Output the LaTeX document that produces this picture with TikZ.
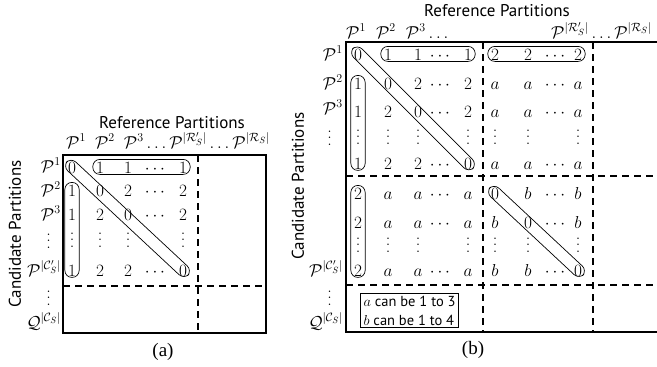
\documentclass[tikz,border=0pt]{standalone}
\usepackage{fontspec}
\setsansfont{PT Sans}
\newfontfamily\capfont{Liberation Serif}
\usetikzlibrary{fit,calc}

\newcommand{\vd}{\vbox{\baselineskip6.5pt\lineskiplimit0pt\hbox{.}\hbox{.}\hbox{.}}}
\newcommand{\msz}{\fontsize{18}{21}\selectfont}

\tikzstyle{ent}=[inner sep=0pt,anchor=base,text height=12.2pt,text depth=0pt,font=\msz]
\tikzstyle{lbl}=[inner sep=0pt,anchor=base east,font=\msz]
\tikzstyle{hdr}=[inner sep=0pt,anchor=base west,font=\msz]
\tikzstyle{ttl}=[inner sep=0pt,font=\sffamily\fontsize{17}{20}\selectfont]
\tikzstyle{subcap}=[inner sep=0pt,font=\capfont\fontsize{19}{22}\selectfont]
\tikzstyle{grp}=[draw,rounded corners=7pt,inner xsep=3pt,inner ysep=1.2pt,line width=0.7pt]
\tikzstyle{frame}=[line width=1.4pt]
\tikzstyle{cut}=[line width=1.2pt,dash pattern=on 7pt off 5pt]
\tikzstyle{note}=[draw,line width=1.2pt,align=left,inner xsep=3pt,inner ysep=2.5pt,font=\sffamily\fontsize{14.5}{19}\selectfont]

\def\colA{{72,100,128,155,183}}
\def\colB{{358,388,418,440,468,495,528,555,578}}

\begin{document}
\begin{tikzpicture}[x=1pt,y=-1pt]
\useasboundingbox (0,0) rectangle (657,367);

% (a) small matrix
\draw[frame] (63,155) rectangle (266,333);
\draw[cut] (198,155) -- (198,333);
\draw[cut] (63,286) -- (266,286);
\node[ttl] (refA) at (172,123) {Reference Partitions};
\node[ttl, rotate=90] (candA) at (15,234) {Candidate Partitions};
\node[hdr] (hdA) at (66,148) {$\mathcal{P}^1\hspace{9pt}\mathcal{P}^2\hspace{9pt}\mathcal{P}^3\ldots\mathcal{P}^{|\mathcal{R}'_S|}\ldots\mathcal{P}^{|\mathcal{R}_S|}$};
\node[lbl] (la1) at (61,172) {$\mathcal{P}^1$};
\node[lbl] (la2) at (61,196) {$\mathcal{P}^2$};
\node[lbl] (la3) at (61,220) {$\mathcal{P}^3$};
\node[lbl] (la4) at (51,248) {$\vd$};
\node[lbl] (la5) at (61,276) {$\mathcal{P}^{|\mathcal{C}'_S|}$};
\node[lbl] (la6) at (51,305) {$\vd$};
\node[lbl] (la7) at (61,328) {$\mathcal{Q}^{|\mathcal{C}_S|}$};
\foreach \rw/\yy/\row in {1/173/{0,1,1,\cdots,1},2/196/{1,0,2,\cdots,2},3/220/{1,2,0,\cdots,2},
    4/247/{\vd,\vd,\vd,{},\vd},5/276/{1,2,2,\cdots,0}}
  \foreach \v [count=\cc] in \row {
    \pgfmathsetmacro\xx{\colA[\cc-1]}
    \node[ent] (a-\rw-\cc) at (\xx,\yy) {$\v$};
  }
\node[grp, fit=(a-1-2)(a-1-5)] (ga1) {};
\node[grp, fit=(a-2-1)(a-5-1)] (ga2) {};
\node[grp, rotate fit=-43, fit=(a-1-1)(a-5-5)] (ga3) {};
\node[subcap] (capA) at (163,352) {(a)};

% (b) large matrix
\draw[frame] (660,42) -| (346,332) -- (660,332);
\draw[cut] (483,42) -- (483,332);
\draw[cut] (593,42) -- (593,332);
\draw[cut] (346,176) -- (660,176);
\draw[cut] (346,285) -- (660,285);
\node[ttl] (refB) at (497,11) {Reference Partitions};
\node[ttl, rotate=90] (candB) at (298,186) {Candidate Partitions};
\node[hdr] (hdB1) at (346,38) {$\mathcal{P}^1\hspace{10pt}\mathcal{P}^2\hspace{10pt}\mathcal{P}^3\ldots$};
\node[hdr] (hdB2) at (551,38) {$\mathcal{P}^{|\mathcal{R}'_S|}\ldots\mathcal{P}^{|\mathcal{R}_S|}$};
\node[lbl] (lb1) at (343,60) {$\mathcal{P}^1$};
\node[lbl] (lb2) at (343,89) {$\mathcal{P}^2$};
\node[lbl] (lb3) at (343,114) {$\mathcal{P}^3$};
\node[lbl] (lb4) at (332,145) {$\vd$};
\node[lbl] (lb5) at (343,276) {$\mathcal{P}^{|\mathcal{C}'_S|}$};
\node[lbl] (lb6) at (332,305) {$\vd$};
\node[lbl] (lb7) at (343,328) {$\mathcal{Q}^{|\mathcal{C}_S|}$};
\foreach \rw/\yy/\row in {1/60/{0,1,1,\cdots,1,2,2,\cdots,2},2/89/{1,0,2,\cdots,2,a,a,\cdots,a},
    3/117/{1,2,0,\cdots,2,a,a,\cdots,a},4/144/{\vd,\vd,\vd,{},\vd,\vd,\vd,{},\vd},
    5/169/{1,2,2,\cdots,0,a,a,\cdots,a},6/199/{2,a,a,\cdots,a,0,b,\cdots,b},
    7/228/{2,a,a,\cdots,a,b,0,\cdots,b},8/252/{\vd,\vd,\vd,{},\vd,\vd,\vd,{},\vd},
    9/276/{2,a,a,\cdots,a,b,b,\cdots,0}}
  \foreach \v [count=\cc] in \row {
    \pgfmathsetmacro\xx{\colB[\cc-1]}
    \node[ent] (b-\rw-\cc) at (\xx,\yy) {$\v$};
  }
\node[grp, fit=(b-1-2)(b-1-5)] (gb1) {};
\node[grp, fit=(b-1-6)(b-1-9)] (gb2) {};
\node[grp, fit=(b-2-1)(b-5-1)] (gb3) {};
\node[grp, fit=(b-6-1)(b-9-1)] (gb4) {};
\node[grp, rotate fit=-45, fit=(b-1-1)(b-5-5)] (gb5) {};
\node[grp, rotate fit=-43, fit=(b-6-6)(b-9-9)] (gb6) {};
\node[note, anchor=west] (key) at (360,310.5) {$a$ can be 1 to 3\\$b$ can be 1 to 4};
\node[subcap] (capB) at (473,350) {(b)};
\end{tikzpicture}
\end{document}
